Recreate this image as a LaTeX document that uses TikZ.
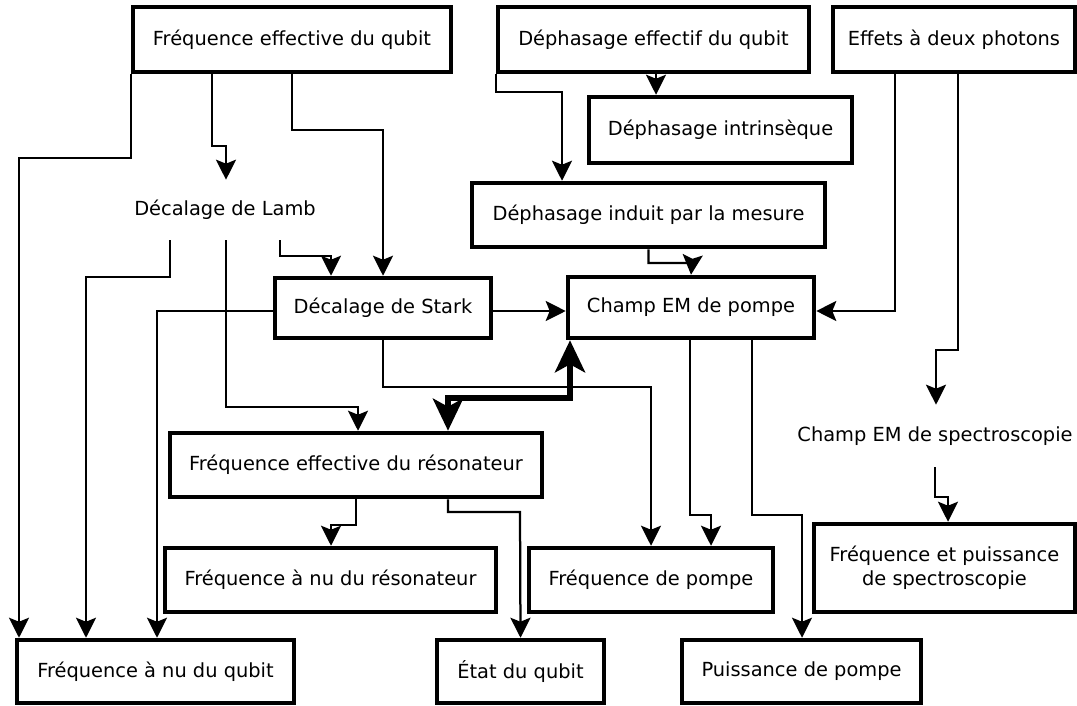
\documentclass[tikz,border=0pt]{standalone}
\usepackage{fontspec}
\setmainfont{DejaVu Sans}
\usepackage{tikz}
\usetikzlibrary{arrows.meta}

\begin{document}
\begin{tikzpicture}[
    x=0.025cm, y=-0.025cm,
    every node/.style = {font=\fontsize{13.8}{17}\selectfont},
    box/.style = {draw, line width=3.2pt, minimum height=1.6cm, align=center, inner sep=0pt},
    plain/.style = {minimum height=1.5cm, inner sep=0pt},
    conn/.style = {line width=1.6pt, -{Stealth[length=0.5cm, width=0.5cm, inset=0.1cm]}},
    heavy/.style = {line width=4.5pt, {Stealth[length=0.8cm, width=0.75cm, inset=0.2cm]}-{Stealth[length=0.8cm, width=0.75cm, inset=0.2cm]}}
]
\useasboundingbox (0,0) rectangle (1077,705);

% Top row of boxes
\node[box, minimum width=7.95cm, minimum height=1.625cm] (fqe) at (292,39.5) {Fréquence effective du qubit};
\node[box, minimum width=7.775cm, minimum height=1.625cm] (dpe) at (653.5,39.5) {Déphasage effectif du qubit};
\node[box, minimum width=6.05cm, minimum height=1.625cm] (deux) at (954,39.5) {Effets à deux photons};

% Dephasing boxes
\node[box, minimum width=6.575cm, minimum height=1.65cm] (dpi) at (720.5,130) {Déphasage intrinsèque};
\node[box, minimum width=8.825cm] (dpm) at (648.5,215) {Déphasage induit par la mesure};

% Shifts and pump field
\node[plain] (lamb) at (225,210) {Décalage de Lamb};
\node[box, minimum width=5.4cm, minimum height=1.5cm] (stark) at (383,308) {Décalage de Stark};
\node[box, minimum width=6.15cm, minimum height=1.525cm] (pompe) at (691,307.5) {Champ EM de pompe};
\node[plain, minimum height=1.55cm] (spec) at (935,436) {Champ EM de spectroscopie};

% Resonator boxes
\node[box, minimum width=9.3cm] (fre) at (356,465) {Fréquence effective du résonateur};
\node[box, minimum width=8.275cm] (frn) at (330.5,580) {Fréquence à nu du résonateur};
\node[box, minimum width=6.1cm] (fp) at (651,580) {Fréquence de pompe};
\node[box, minimum width=6.525cm, minimum height=2.2cm] (fps) at (944.5,568) {Fréquence et puissance\\de spectroscopie};

% Bottom row
\node[box, minimum width=6.925cm, minimum height=1.575cm] (fqn) at (155.5,671.5) {Fréquence à nu du qubit};
\node[box, minimum width=4.175cm, minimum height=1.575cm] (etat) at (520.5,671.5) {État du qubit};
\node[box, minimum width=5.975cm, minimum height=1.575cm] (pp) at (801.5,671.5) {Puissance de pompe};

% From the effective qubit frequency
\draw[conn] (fqe.south west) |- (19,158) -- (fqn.north -| 19,0);
\draw[conn] (fqe.south -| 212,0) |- (226,146) -- (lamb.north -| 226,0);
\draw[conn] (fqe.south) |- (383,130) -- (stark.north);

% From the Lamb shift
\draw[conn] (lamb.south -| 170,0) |- (86,277) -- (fqn.north -| 86,0);
\draw[conn] (lamb.south -| 226,0) |- (358,407) -- (fre.north -| 358,0);
\draw[conn] (lamb.south -| 280,0) |- (331,256) -- (stark.north -| 331,0);

% From the Stark shift
\draw[conn] (stark.west |- 0,311) -| (fqn.north -| 157,0);
\draw[conn] (stark.east |- 0,311) -- (pompe.west |- 0,311);
\draw[conn] (stark.south) |- (651,387) -- (fp.north);

% Dephasing
\draw[conn] (dpe.south west) |- (562,92) -- (dpm.north -| 562,0);
\draw[conn] (dpe.south -| 656,0) -- (dpi.north -| 656,0);
\draw[conn] (dpm.south) |- (692,263) -- (pompe.north);

% Two-photon effects
\draw[conn] (deux.south -| 895,0) |- (pompe.east |- 0,311);
\draw[conn] (deux.south -| 958,0) |- (936,350) -- (spec.north -| 936,0);
\draw[conn] (spec.south) |- (948,497) -- (fps.north -| 948,0);

% From the pump field
\draw[conn] (pompe.south -| 690,0) |- (711,515) -- (fp.north -| 711,0);
\draw[conn] (pompe.south -| 752,0) |- (802,515) -- (pp.north -| 802,0);
\draw[heavy] (fre.north -| 448,0) |- (570,398) -- (pompe.south -| 570,0);

% From the effective resonator frequency
\draw[conn] (fre.south) |- (331,525) -- (frn.north -| 331,0);
\draw[conn] (fre.south -| 448,0) |- (520,512) -- (etat.north);

\end{tikzpicture}
\end{document}
